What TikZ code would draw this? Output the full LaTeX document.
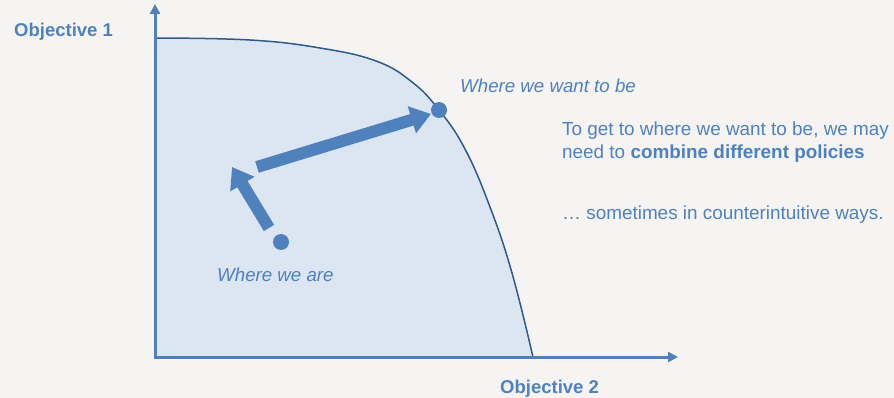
\documentclass[tikz,border=0pt]{standalone}
\usepackage{fontspec}
\setmainfont{Liberation Sans}
\usetikzlibrary{arrows.meta}
\definecolor{bgc}{HTML}{F5F4F3}
\definecolor{mainblue}{HTML}{4F81BD}
\definecolor{fillblue}{HTML}{DCE6F2}
\definecolor{curveblue}{HTML}{2F5A8F}
\tikzset{
  axis/.style={draw=mainblue, line width=3pt, -{Triangle[width=10pt,length=10pt]}},
  bigarrow/.style={draw=mainblue, line width=12pt, -{Triangle[width=27pt,length=20pt]}},
  dot/.style={circle, fill=mainblue, inner sep=0pt, minimum size=16pt},
  lbl/.style={text=mainblue, font=\fontsize{18.9}{23}\selectfont, inner sep=0pt},
}
\begin{document}
\begin{tikzpicture}[x=1pt,y=-1pt]
\fill[bgc] (0,0) rectangle (894,398);
\useasboundingbox (0,0) rectangle (894,398);
% frontier region
\def\frontier{(155,38) (250,40) (320,48) (376,61) (412,82) (439,110) (465,149) (490,207) (512,273) (533,357)}
\fill[fillblue] (155,357) -- plot[smooth, tension=0.7] coordinates {\frontier} -- cycle;
\draw[curveblue, line width=1.5pt] plot[smooth, tension=0.7] coordinates {\frontier};
% axes
\coordinate (O) at (155,357);
\coordinate (ytip) at (155,4);
\coordinate (xtip) at (678,357);
\draw[axis] ([yshift=1.5pt]O) -- (ytip);
\draw[axis] ([xshift=-1.5pt]O) -- (xtip);
% dots
\node[dot] (here) at (281,242) {};
\node[dot] (goal) at (439,110) {};
% arrows
\coordinate (a1s) at (269,228);
\coordinate (a1e) at (232,167);
\coordinate (a2s) at (257,167);
\coordinate (a2e) at (431,114);
\draw[bigarrow] (a1s) -- (a1e);
\draw[bigarrow] (a2s) -- (a2e);
% labels
\node[lbl, anchor=base west, font=\fontsize{18.5}{23}\selectfont\bfseries] (obj1) at (14,36.5) {Objective 1};
\node[lbl, anchor=base west, font=\fontsize{18.5}{23}\selectfont\bfseries] (obj2) at (500,393) {Objective 2};
\node[lbl, anchor=base west, font=\fontsize{18.7}{23}\selectfont\itshape] (want) at (460,93) {Where we want to be};
\node[lbl, anchor=base west, font=\fontsize{18.7}{23}\selectfont\itshape] (are) at (217,281) {Where we are};
\node[lbl, anchor=base west, align=left] (t1) at (562,159) {To get to where we want to be, we may\\need to \textbf{combine different policies}};
\node[lbl, anchor=base west] (t2) at (562,220) {\dots\ sometimes in counterintuitive ways.};
\end{tikzpicture}
\end{document}
